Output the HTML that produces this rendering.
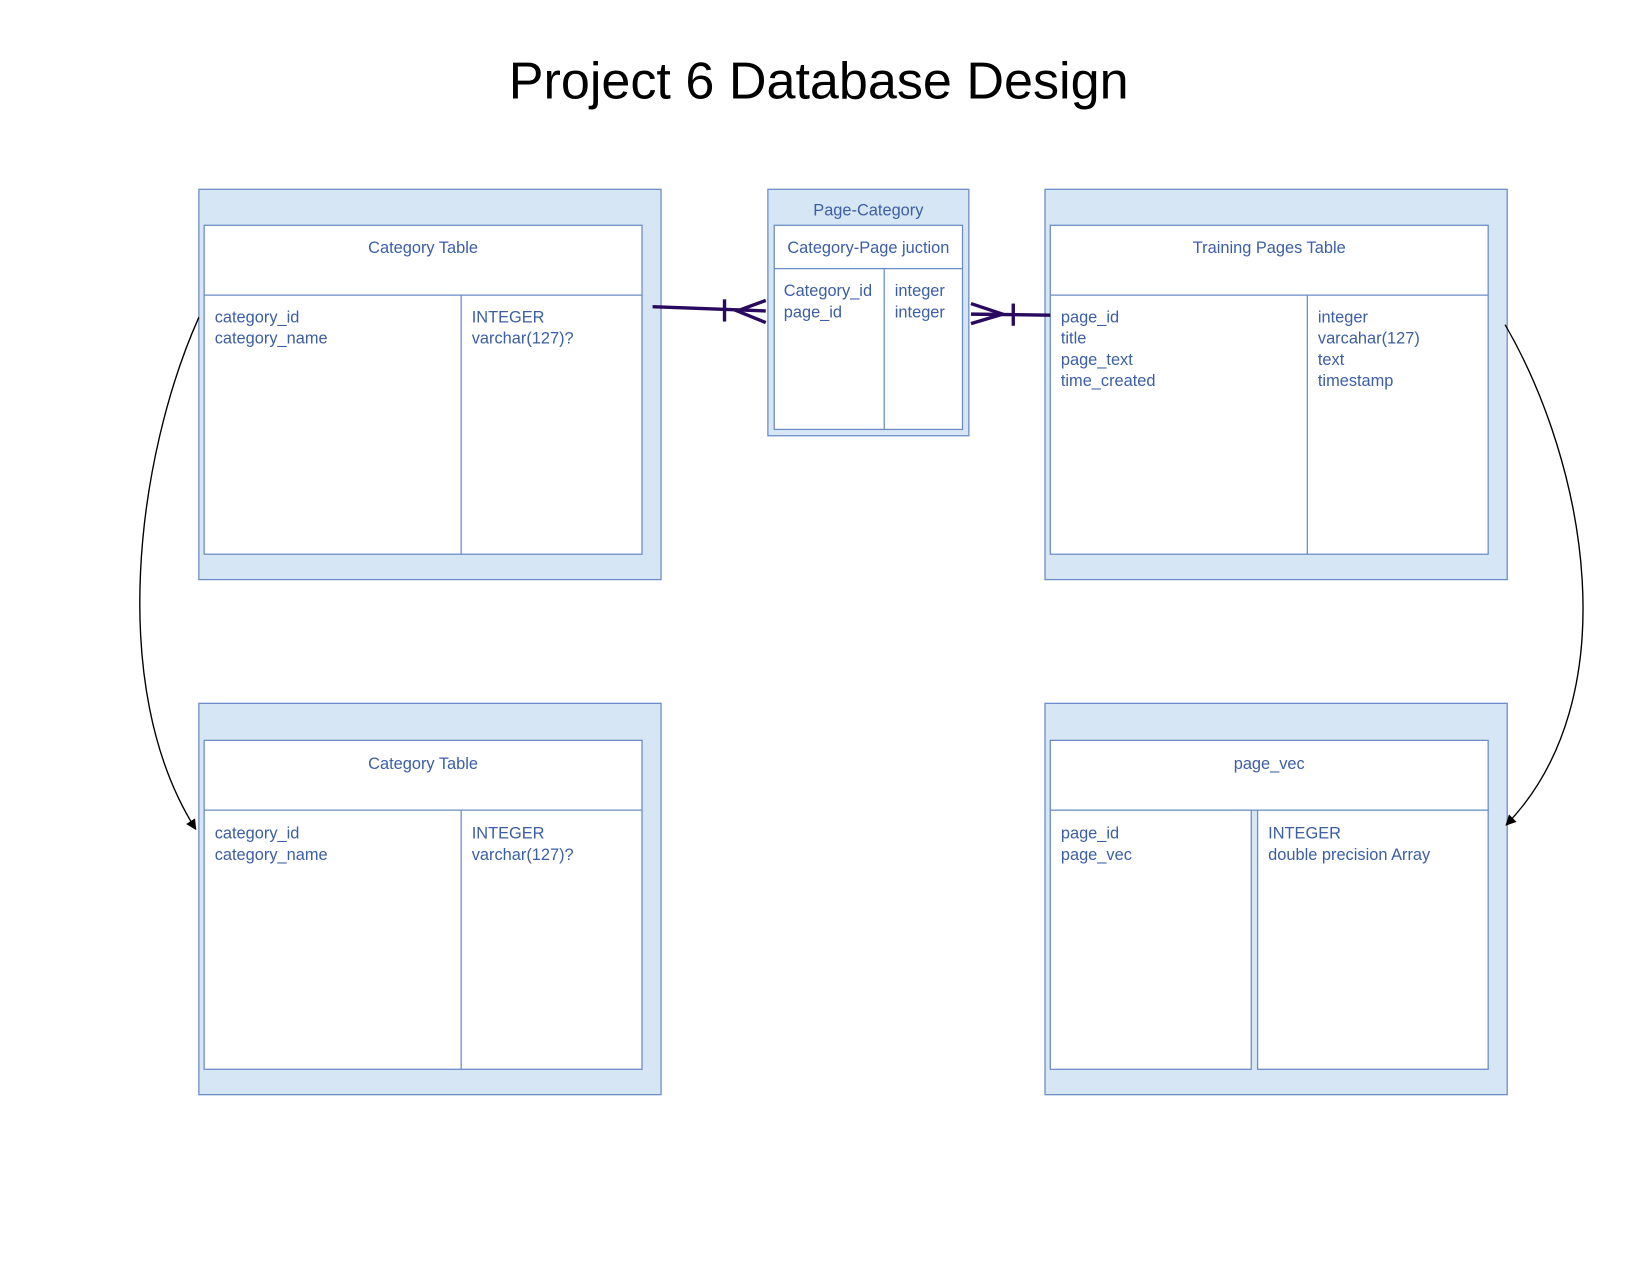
<!DOCTYPE html>
<html><head><meta charset="utf-8"><style>html,body{margin:0;padding:0;background:#fff}svg{display:block}</style></head>
<body>
<svg width="1650" height="1275" viewBox="0 0 1560 1205.5" preserveAspectRatio="none" xmlns="http://www.w3.org/2000/svg">
<defs><marker id="ah" markerWidth="10" markerHeight="10" refX="9" refY="5" orient="auto" markerUnits="userSpaceOnUse" viewBox="0 0 10 10"><path d="M0,0 L10,5 L0,10 z" fill="#000"/></marker></defs>
<text x="774" y="93" font-family="Liberation Sans, sans-serif" font-size="49" text-anchor="middle" fill="#000" textLength="586" lengthAdjust="spacingAndGlyphs">Project 6 Database Design</text>
<g fill="#d6e6f4" stroke="#6a8cc7" stroke-width="1.2">
<rect x="188" y="179" width="437" height="369"/>
<rect x="726" y="179" width="190" height="233"/>
<rect x="988" y="179" width="437" height="369"/>
<rect x="188" y="665" width="437" height="370"/>
<rect x="988" y="665" width="437" height="370"/>
</g>
<g fill="#fff" stroke="#6a8cc7" stroke-width="1.2">
<rect x="193" y="213" width="414" height="311"/>
<rect x="732" y="213" width="178" height="193"/>
<rect x="993" y="213" width="414" height="311"/>
<rect x="193" y="700" width="414" height="311"/>
<rect x="993" y="700" width="414" height="66"/>
<rect x="993" y="766" width="190" height="245"/>
<rect x="1189" y="766" width="218" height="245"/>
</g>
<g stroke="#6a8cc7" stroke-width="1.2">
<line x1="193" y1="279" x2="607" y2="279"/><line x1="436" y1="279" x2="436" y2="524"/>
<line x1="732" y1="254" x2="910" y2="254"/><line x1="836" y1="254" x2="836" y2="406"/>
<line x1="993" y1="279" x2="1407" y2="279"/><line x1="1236" y1="279" x2="1236" y2="524"/>
<line x1="193" y1="766" x2="607" y2="766"/><line x1="436" y1="766" x2="436" y2="1011"/>
</g>
<g font-family="Liberation Sans, sans-serif" font-size="15.5" fill="#3b5ea6">
<text x="400" y="239" text-anchor="middle">Category Table</text>
<text x="203" y="305">category_id</text><text x="203" y="325">category_name</text>
<text x="446" y="305">INTEGER</text><text x="446" y="325">varchar(127)?</text>
<text x="821" y="204" text-anchor="middle">Page-Category</text>
<text x="821" y="239" text-anchor="middle">Category-Page juction</text>
<text x="741" y="280">Category_id</text><text x="741" y="300">page_id</text>
<text x="846" y="280">integer</text><text x="846" y="300">integer</text>
<text x="1200" y="239" text-anchor="middle">Training Pages Table</text>
<text x="1003" y="305">page_id</text><text x="1003" y="325">title</text><text x="1003" y="345">page_text</text><text x="1003" y="365">time_created</text>
<text x="1246" y="305">integer</text><text x="1246" y="325">varcahar(127)</text><text x="1246" y="345">text</text><text x="1246" y="365">timestamp</text>
<text x="400" y="727" text-anchor="middle">Category Table</text>
<text x="203" y="793">category_id</text><text x="203" y="813">category_name</text>
<text x="446" y="793">INTEGER</text><text x="446" y="813">varchar(127)?</text>
<text x="1200" y="727" text-anchor="middle">page_vec</text>
<text x="1003" y="793">page_id</text><text x="1003" y="813">page_vec</text>
<text x="1199" y="793">INTEGER</text><text x="1199" y="813">double precision Array</text>
</g>
<g stroke="#2a0a5e" stroke-width="3.2" fill="none">
<line x1="617" y1="290" x2="724" y2="294"/>
<line x1="685" y1="283" x2="685" y2="304"/>
<polyline points="724,284 697,294 724,305"/>
<line x1="918" y1="297" x2="993" y2="298"/>
<line x1="958" y1="287" x2="958" y2="308"/>
<polyline points="918,287 948,297 918,306"/>
</g>
<g stroke="#000" stroke-width="1.3" fill="none">
<path d="M188,300 C130,430 100,650 185,784" marker-end="url(#ah)"/>
<path d="M1423,307 C1500,440 1540,660 1424,780" marker-end="url(#ah)"/>
</g>
</svg>
</body></html>
